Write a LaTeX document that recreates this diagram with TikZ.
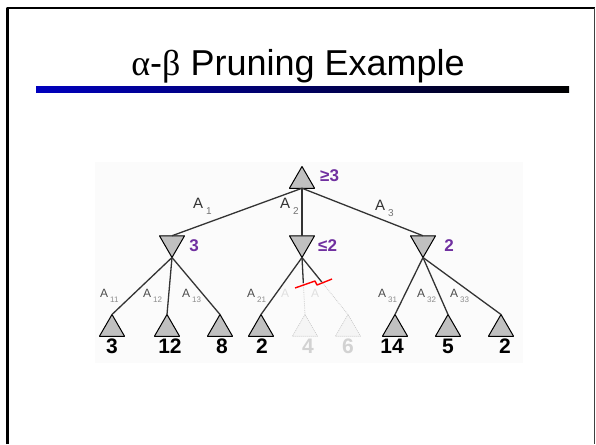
\documentclass[tikz,border=0pt]{standalone}
\usepackage{fontspec}
\setmainfont{Liberation Sans}
\newfontfamily\greekfont{Liberation Serif}
\usetikzlibrary{shapes,calc}

\definecolor{valpurple}{RGB}{112,48,160}
\definecolor{barblue}{RGB}{0,0,190}
\definecolor{nodegray}{RGB}{192,192,192}

% move label: big A with a lowered index
\newcommand{\mvA}[1]{A\hspace{3pt}\raisebox{-6pt}{\fontsize{10}{10}\selectfont\textcolor{black!55}{#1}}}
\newcommand{\mvAsm}[1]{A\hspace{2pt}\raisebox{-5pt}{\fontsize{8}{8}\selectfont\textcolor{black!45}{#1}}}

\begin{document}
\begin{tikzpicture}[x=1pt, y=-1pt, line join=round]
\tikzstyle{maxnd}=[regular polygon, regular polygon sides=3, minimum size=29pt,
  inner sep=0pt, outer sep=0pt, draw=black, fill=nodegray, line width=1pt]
\tikzstyle{minnd}=[maxnd, shape border rotate=180]
\tikzstyle{gone}=[maxnd, draw=gray!45, fill=gray!8, densely dotted, line width=0.6pt]
\tikzstyle{val}=[font=\fontsize{21}{21}\selectfont\bfseries, inner sep=0pt]
\tikzstyle{bnd}=[font=\fontsize{17}{17}\selectfont\bfseries, text=valpurple, inner sep=0pt]
\tikzstyle{mv}=[font=\fontsize{15}{15}\selectfont, text=black!80, inner sep=0pt, anchor=base west]
\tikzstyle{mvs}=[font=\fontsize{12}{12}\selectfont, text=black!70, inner sep=0pt, anchor=base west]
\tikzstyle{arc}=[draw=black!80, line width=1.3pt]
\tikzstyle{prn}=[draw=gray!40, densely dotted, line width=0.8pt]

\useasboundingbox (0,0) rectangle (596,444);

% slide frame, title and rule
\draw[line width=2.5pt] (7.5,444) -- (7.5,8) -- (595,8);
\draw[line width=1.5pt, black!75] (594.5,8) -- (594.5,444);
\node[anchor=base, inner sep=0pt, font=\fontsize{36}{40}\selectfont] (title) at (298,75)
  {{\greekfont α}-{\greekfont β} Pruning Example};
\shade[left color=barblue, right color=black] (36,86) rectangle (569,92);

% backdrop of the tree figure
\fill[black!1.5] (95,162) rectangle (523,363);

% MAX root and MIN replies
\node[maxnd] (root) at (302,181) {};
\node[minnd] (m1) at (172,243) {};
\node[minnd] (m2) at (302,243) {};
\node[minnd] (m3) at (423,243) {};

% leaves
\node[maxnd] (l11) at (112,329) {};
\node[maxnd] (l12) at (167,329) {};
\node[maxnd] (l13) at (220,329) {};
\node[maxnd] (l21) at (261,329) {};
\node[gone]  (l22) at (305,329) {};
\node[gone]  (l23) at (348,329) {};
\node[maxnd] (l31) at (395,329) {};
\node[maxnd] (l32) at (448,329) {};
\node[maxnd] (l33) at (501,329) {};

\coordinate (k22) at ($(m2.corner 1)!0.45!(l22.corner 1)$);
\coordinate (k23) at ($(m2.corner 1)!0.43!(l23.corner 1)$);

\path
(root.side 2) edge[arc] (m1.side 2)
              edge[arc] (m2.side 2)
              edge[arc] (m3.side 2)
(m1.corner 1) edge[arc] (l11.corner 1)
              edge[arc] (l12.corner 1)
              edge[arc] (l13.corner 1)
(m2.corner 1) edge[arc] (l21.corner 1)
              edge[arc] (k22)
              edge[arc] (k23)
(k22)         edge[prn] (l22.corner 1)
(k23)         edge[prn] (l23.corner 1)
(m3.corner 1) edge[arc] (l31.corner 1)
              edge[arc] (l32.corner 1)
              edge[arc] (l33.corner 1);

% cut through the pruned branches
\draw[red, line width=1.4pt] (295,288) -- (315,281) -- (317,285) -- (332,279);

% backed-up values
\node[bnd, anchor=west] (vroot) at (320,176) {≥3};
\node[bnd] (v1) at (194,246) {3};
\node[bnd, anchor=west] (v2) at (318,246) {≤2};
\node[bnd] (v3) at (449,246) {2};

% leaf values
\node[val] (v11) at (112,346) {3};
\node[val] (v12) at (170,346) {12};
\node[val] (v13) at (222,346) {8};
\node[val] (v21) at (262,346) {2};
\node[val, text=gray!35] (v22) at (308,346) {4};
\node[val, text=gray!35] (v23) at (348,346) {6};
\node[val] (v31) at (392,346) {14};
\node[val] (v32) at (448,346) {5};
\node[val] (v33) at (505,346) {2};

% move labels
\node[mv] (a1) at (193,208) {\mvA{1}};
\node[mv] (a2) at (280,208) {\mvA{2}};
\node[mv] (a3) at (375,210) {\mvA{3}};
\node[mvs] (a11) at (100,297) {\mvAsm{11}};
\node[mvs] (a12) at (143,297) {\mvAsm{12}};
\node[mvs] (a13) at (182,297) {\mvAsm{13}};
\node[mvs] (a21) at (247,297) {\mvAsm{21}};
\node[mvs, text=gray!25] (a22) at (281,297) {A};
\node[mvs, text=gray!25] (a23) at (311,297) {A};
\node[mvs] (a31) at (378,297) {\mvAsm{31}};
\node[mvs] (a32) at (417,297) {\mvAsm{32}};
\node[mvs] (a33) at (450,297) {\mvAsm{33}};
\end{tikzpicture}
\end{document}
